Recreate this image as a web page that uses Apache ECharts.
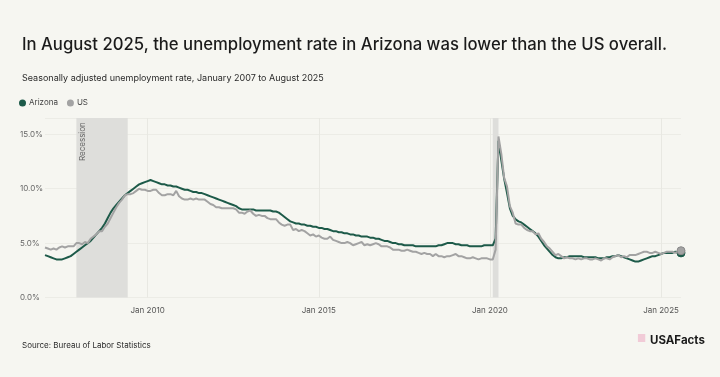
<!DOCTYPE html>
<html>
<head>
<meta charset="utf-8">
<script src="https://cdn.jsdelivr.net/npm/echarts@6/dist/echarts.min.js"></script>
<style>
html,body{margin:0;padding:0;background:#f6f6f1;}
#c{width:720px;height:377px;}
</style>
</head>
<body>
<div id="c"></div>
<script>
// Monthly categories Jan 2007 .. Aug 2025
const startYear = 2007, endYear = 2025, endMonth = 8;
const months = [];
for (let y = startYear; y <= endYear; y++) {
  for (let m = 1; m <= 12; m++) {
    if (y === endYear && m > endMonth) break;
    months.push(y + '-' + (m < 10 ? '0' + m : m));
  }
}
const xTickLabels = ['2010-01', '2015-01', '2020-01', '2025-01'];
const yTicks = [0, 5, 10, 15];

const arizona = [
  3.9,3.8,3.7,3.6,3.5,3.5,3.5,3.6,3.7,3.8,4.0,4.2,
  4.4,4.6,4.8,5.0,5.2,5.5,5.8,6.1,6.4,6.8,7.3,7.8,
  8.2,8.5,8.8,9.1,9.4,9.6,9.8,10.0,10.2,10.4,10.5,10.6,
  10.7,10.8,10.7,10.6,10.5,10.4,10.4,10.3,10.3,10.2,10.2,10.1,
  10.0,9.9,9.9,9.8,9.7,9.7,9.6,9.6,9.5,9.4,9.3,9.2,
  9.1,9.0,8.9,8.8,8.7,8.6,8.5,8.4,8.2,8.1,8.1,8.1,
  8.1,8.1,8.0,8.0,8.0,8.0,8.0,8.0,7.9,7.9,7.8,7.6,
  7.4,7.2,7.0,6.9,6.8,6.8,6.7,6.7,6.6,6.6,6.5,6.5,
  6.4,6.4,6.3,6.3,6.2,6.1,6.1,6.0,6.0,5.9,5.9,5.8,
  5.8,5.7,5.7,5.6,5.6,5.6,5.5,5.5,5.4,5.4,5.3,5.2,
  5.2,5.1,5.0,5.0,4.9,4.9,4.8,4.8,4.8,4.8,4.7,4.7,
  4.7,4.7,4.7,4.7,4.7,4.7,4.8,4.8,4.9,5.0,5.0,5.0,
  4.9,4.9,4.8,4.8,4.8,4.7,4.7,4.7,4.7,4.7,4.8,4.8,
  4.8,4.8,5.4,14.4,12.6,10.9,9.6,8.2,7.5,7.2,7.0,6.9,
  6.7,6.5,6.3,6.1,5.9,5.6,5.2,4.8,4.5,4.2,3.9,3.7,
  3.6,3.6,3.7,3.7,3.8,3.8,3.8,3.8,3.8,3.7,3.7,3.7,
  3.7,3.7,3.6,3.6,3.6,3.7,3.7,3.8,3.8,3.9,3.8,3.7,
  3.6,3.5,3.4,3.3,3.3,3.4,3.5,3.6,3.7,3.8,3.8,3.9,
  4.0,4.1,4.1,4.1,4.1,4.2,4.1,4.1
];
const us = [
  4.6,4.5,4.4,4.5,4.4,4.6,4.7,4.6,4.7,4.7,4.7,5.0,
  5.0,4.9,5.1,5.0,5.4,5.6,5.8,6.1,6.1,6.5,6.8,7.3,
  7.8,8.3,8.7,9.0,9.4,9.5,9.5,9.6,9.8,10.0,9.9,9.9,
  9.8,9.8,9.9,9.9,9.6,9.4,9.4,9.5,9.5,9.4,9.8,9.3,
  9.1,9.0,9.0,9.1,9.0,9.1,9.0,9.0,9.0,8.8,8.6,8.5,
  8.3,8.3,8.2,8.2,8.2,8.2,8.2,8.1,7.8,7.8,7.7,7.9,
  8.0,7.7,7.5,7.6,7.5,7.5,7.3,7.2,7.2,7.2,6.9,6.7,
  6.6,6.7,6.7,6.2,6.3,6.1,6.2,6.1,5.9,5.7,5.8,5.6,
  5.7,5.5,5.4,5.4,5.6,5.3,5.2,5.1,5.0,5.0,5.1,5.0,
  4.8,4.9,5.0,5.1,4.8,4.9,4.8,4.9,5.0,4.9,4.7,4.7,
  4.7,4.6,4.4,4.4,4.4,4.3,4.3,4.4,4.3,4.2,4.2,4.1,
  4.0,4.1,4.0,4.0,3.8,4.0,3.8,3.8,3.7,3.8,3.8,3.9,
  4.0,3.8,3.8,3.7,3.6,3.6,3.7,3.6,3.5,3.6,3.6,3.6,
  3.5,3.5,4.4,14.8,13.2,11.0,10.2,8.4,7.8,6.8,6.7,6.7,
  6.4,6.2,6.1,6.1,5.8,5.9,5.4,5.1,4.7,4.5,4.2,3.9,
  4.0,3.8,3.6,3.7,3.6,3.6,3.5,3.6,3.5,3.6,3.6,3.5,
  3.5,3.6,3.5,3.4,3.6,3.6,3.5,3.7,3.8,3.9,3.7,3.8,
  3.7,3.9,3.9,3.9,4.0,4.1,4.2,4.2,4.1,4.1,4.2,4.1,
  4.0,4.1,4.2,4.2,4.2,4.1,4.2,4.3
];
const recession = ['2007-12', '2009-06'];
const covid = ['2020-02', '2020-04'];
const monthNames = ['Jan','Feb','Mar','Apr','May','Jun','Jul','Aug','Sep','Oct','Nov','Dec'];

const GREEN = '#1d5a49', GRAY = '#a3a3a3';
const FONT = 'Inter, "Noto Sans", sans-serif';

function withEndDot(arr, color, border) {
  return arr.map((v, i) => i === arr.length - 1
    ? { value: v, symbol: 'circle', symbolSize: 8, itemStyle: { color: color, borderColor: border, borderWidth: 1 } }
    : v);
}

const chart = echarts.init(document.getElementById('c'), null, { renderer: 'canvas' });
chart.setOption({
  backgroundColor: '#f6f6f1',
  animation: false,
  textStyle: { fontFamily: FONT },
  title: [
    { text: 'In August 2025, the unemployment rate in Arizona was lower than the US overall.',
      left: 17, top: 31, textStyle: { fontFamily: FONT, fontSize: 16.7, fontWeight: 500, color: '#1b1b1b' } },
    { text: 'Seasonally adjusted unemployment rate, January 2007 to August 2025',
      left: 17, top: 69, textStyle: { fontFamily: FONT, fontSize: 9, fontWeight: 400, color: '#2a2a2a' } },
    { text: 'Source: Bureau of Labor Statistics',
      left: 17, top: 337, textStyle: { fontFamily: FONT, fontSize: 8, fontWeight: 400, color: '#2a2a2a' } }
  ],
  legend: {
    left: 14, top: 94, itemWidth: 7, itemHeight: 7, itemGap: 9,
    icon: 'circle',
    textStyle: { fontFamily: FONT, fontSize: 8, color: '#444', padding: [0, 0, 0, -2] },
    data: [{ name: 'Arizona', itemStyle: { color: GREEN } }, { name: 'US', itemStyle: { color: GRAY } }]
  },
  grid: { left: 45, right: 39, top: 118, bottom: 79.5, containLabel: false },
  xAxis: {
    type: 'category', data: months, boundaryGap: false,
    axisLine: { show: false }, axisTick: { show: false },
    axisLabel: {
      interval: (i, v) => xTickLabels.indexOf(v) >= 0,
      formatter: v => monthNames[parseInt(v.slice(5), 10) - 1] + ' ' + v.slice(0, 4),
      fontFamily: FONT, fontSize: 8, color: '#555', margin: 9
    },
    splitLine: { show: true, interval: (i, v) => xTickLabels.indexOf(v) >= 0,
      lineStyle: { color: '#e8e8e2', width: 1 } }
  },
  yAxis: {
    type: 'value', min: 0, max: 16.5, interval: 5,
    axisLine: { show: false }, axisTick: { show: false },
    axisLabel: {
      showMaxLabel: false,
      formatter: v => (yTicks.indexOf(v) >= 0 ? v.toFixed(1) + '%' : ''),
      fontFamily: FONT, fontSize: 8, color: '#666', align: 'left', margin: 25
    },
    splitLine: { lineStyle: { color: '#ecece6', width: 1 } }
  },
  graphic: [
    { type: 'text', left: 637, top: 334, z: 100,
      style: { text: '\u25A0', fontSize: 10, fill: '#f1cbd7', fontFamily: FONT } },
    { type: 'text', left: 650, top: 335, z: 100,
      style: { text: 'USAFacts', fontSize: 11.5, fontWeight: 700, fill: '#1b1b1b', fontFamily: FONT } },
    { type: 'text', x: 79, y: 161, rotation: Math.PI / 2, z: 100, zlevel: 0,
      style: { text: 'Recession', fontSize: 8, fill: '#666', fontFamily: FONT, align: 'left', verticalAlign: 'top' } }
  ],
  series: [
    {
      name: 'Arizona', type: 'line', data: withEndDot(arizona, GREEN, GREEN),
      symbol: 'none', showAllSymbol: true, smooth: false,
      lineStyle: { color: GREEN, width: 2 }, itemStyle: { color: GREEN }, z: 3,
      markArea: {
        silent: true, itemStyle: { color: '#dededb' },
        data: [
          [{ xAxis: recession[0] }, { xAxis: recession[1] }],
          [{ xAxis: covid[0] }, { xAxis: covid[1] }]
        ]
      }
    },
    {
      name: 'US', type: 'line', data: withEndDot(us, GRAY, '#8a8a8a'),
      symbol: 'none', showAllSymbol: true, smooth: false,
      lineStyle: { color: GRAY, width: 2 }, itemStyle: { color: GRAY }, z: 4
    }
  ]
});
</script>
</body>
</html>
